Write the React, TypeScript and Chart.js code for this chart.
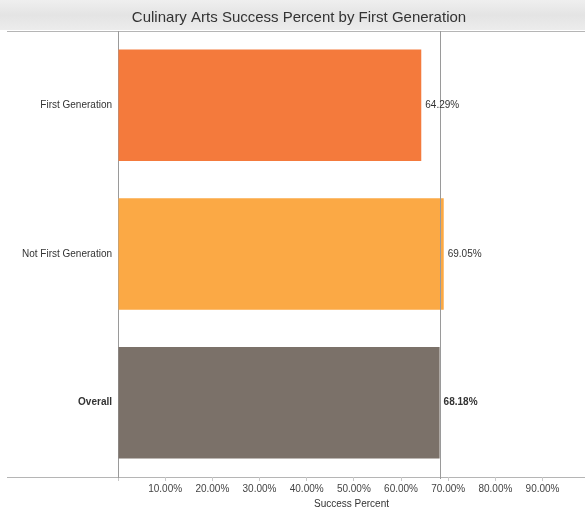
import React, { useEffect, useRef } from "react";
import { Chart, registerables } from "chart.js";

Chart.register(...registerables);

const categories = ["First Generation", "Not First Generation", "Overall"];
const successPercent = [64.29, 69.05, 68.18];
const barColors = ["#F47A3C", "#FBA945", "#7B7169"];
const xTickValues = [10, 20, 30, 40, 50, 60, 70, 80, 90];
const titleText = "Culinary Arts Success Percent by First Generation";
const axisTitle = "Success Percent";
const overallValue = successPercent[2];

const FONT = "'Liberation Sans', Arial, sans-serif";

const decorPlugin = {
  id: "decor",
  beforeDraw(chart: any) {
    const { ctx, chartArea } = chart;
    ctx.save();
    const g = ctx.createLinearGradient(0, 0, 0, 30);
    g.addColorStop(0, "#efefef");
    g.addColorStop(0.5, "#e4e4e4");
    g.addColorStop(1, "#ececec");
    ctx.fillStyle = g;
    ctx.fillRect(0, 0, chart.width, 30);
    ctx.fillStyle = "#333";
    ctx.font = `15px ${FONT}`;
    ctx.textAlign = "center";
    ctx.textBaseline = "middle";
    ctx.fillText(titleText, 299, 18);
    ctx.strokeStyle = "#b5b5b5";
    ctx.lineWidth = 1;
    ctx.beginPath();
    ctx.moveTo(7, Math.round(chartArea.top) + 0.5);
    ctx.lineTo(chart.width, Math.round(chartArea.top) + 0.5);
    ctx.moveTo(7, Math.round(chartArea.bottom) + 0.5);
    ctx.lineTo(chart.width, Math.round(chartArea.bottom) + 0.5);
    ctx.stroke();
    ctx.restore();
  },
  afterDatasetsDraw(chart: any) {
    const { ctx, chartArea } = chart;
    const xs = chart.scales.x;
    ctx.save();
    const px = Math.round(xs.getPixelForValue(overallValue)) + 0.5;
    ctx.strokeStyle = "#9a9a9a";
    ctx.lineWidth = 1;
    ctx.beginPath();
    ctx.moveTo(px, chartArea.top);
    ctx.lineTo(px, chartArea.bottom + 2);
    ctx.stroke();
    const meta = chart.getDatasetMeta(0);
    meta.data.forEach((bar: any, i: number) => {
      ctx.fillStyle = "#333";
      ctx.font = `${i === 2 ? "bold " : ""}10px ${FONT}`;
      ctx.textAlign = "left";
      ctx.textBaseline = "middle";
      ctx.fillText(successPercent[i].toFixed(2) + "%", bar.x + 4, bar.y);
    });
    ctx.restore();
  },
};

export default function App() {
  const ref = useRef<HTMLCanvasElement>(null);
  useEffect(() => {
    if (!ref.current) return;
    const chart = new Chart(ref.current, {
      type: "bar",
      data: {
        labels: categories,
        datasets: [
          {
            data: successPercent,
            backgroundColor: barColors,
            barPercentage: 0.75,
            categoryPercentage: 1,
          },
        ],
      },
      options: {
        indexAxis: "y",
        responsive: false,
        animation: false,
        devicePixelRatio: 1,
        layout: { padding: { top: 31, left: 0, right: 0, bottom: 0 } },
        plugins: { legend: { display: false }, tooltip: { enabled: false }, title: { display: false } },
        scales: {
          x: {
            type: "linear",
            min: 0,
            max: 99,
            afterFit: (s: any) => { s.height = 33; },
            afterBuildTicks: (s: any) => {
              s.ticks = [0, ...xTickValues].map((v) => ({ value: v }));
            },
            ticks: {
              includeBounds: false,
              autoSkip: false,
              maxRotation: 0,
              padding: 2,
              color: "#444",
              font: { family: FONT, size: 10 },
              callback: (v: any) => (v === 0 ? "" : Number(v).toFixed(2) + "%"),
            },
            grid: { drawOnChartArea: false, drawTicks: true, tickLength: 4, color: "#c8c8c8" },
            border: { display: false },
            title: {
              display: true,
              text: axisTitle,
              color: "#333",
              font: { family: FONT, size: 10 },
              padding: { top: 0, bottom: 0 },
            },
          },
          y: {
            type: "category",
            afterFit: (s: any) => { s.width = 118; },
            ticks: {
              padding: 6,
              color: "#333",
              font: (c: any) => ({ family: FONT, size: 10, weight: c.index === 2 ? "bold" : "normal" }),
            },
            grid: { display: false, drawTicks: false },
            border: { display: true, color: "#9a9a9a", width: 1 },
          },
        },
      },
      plugins: [decorPlugin],
    } as any);
    return () => chart.destroy();
  }, []);
  return (
    <div style={{ position: "absolute", left: 0, top: 0, width: 585, height: 510, background: "#fff" }}>
      <canvas ref={ref} width={585} height={510} />
    </div>
  );
}
